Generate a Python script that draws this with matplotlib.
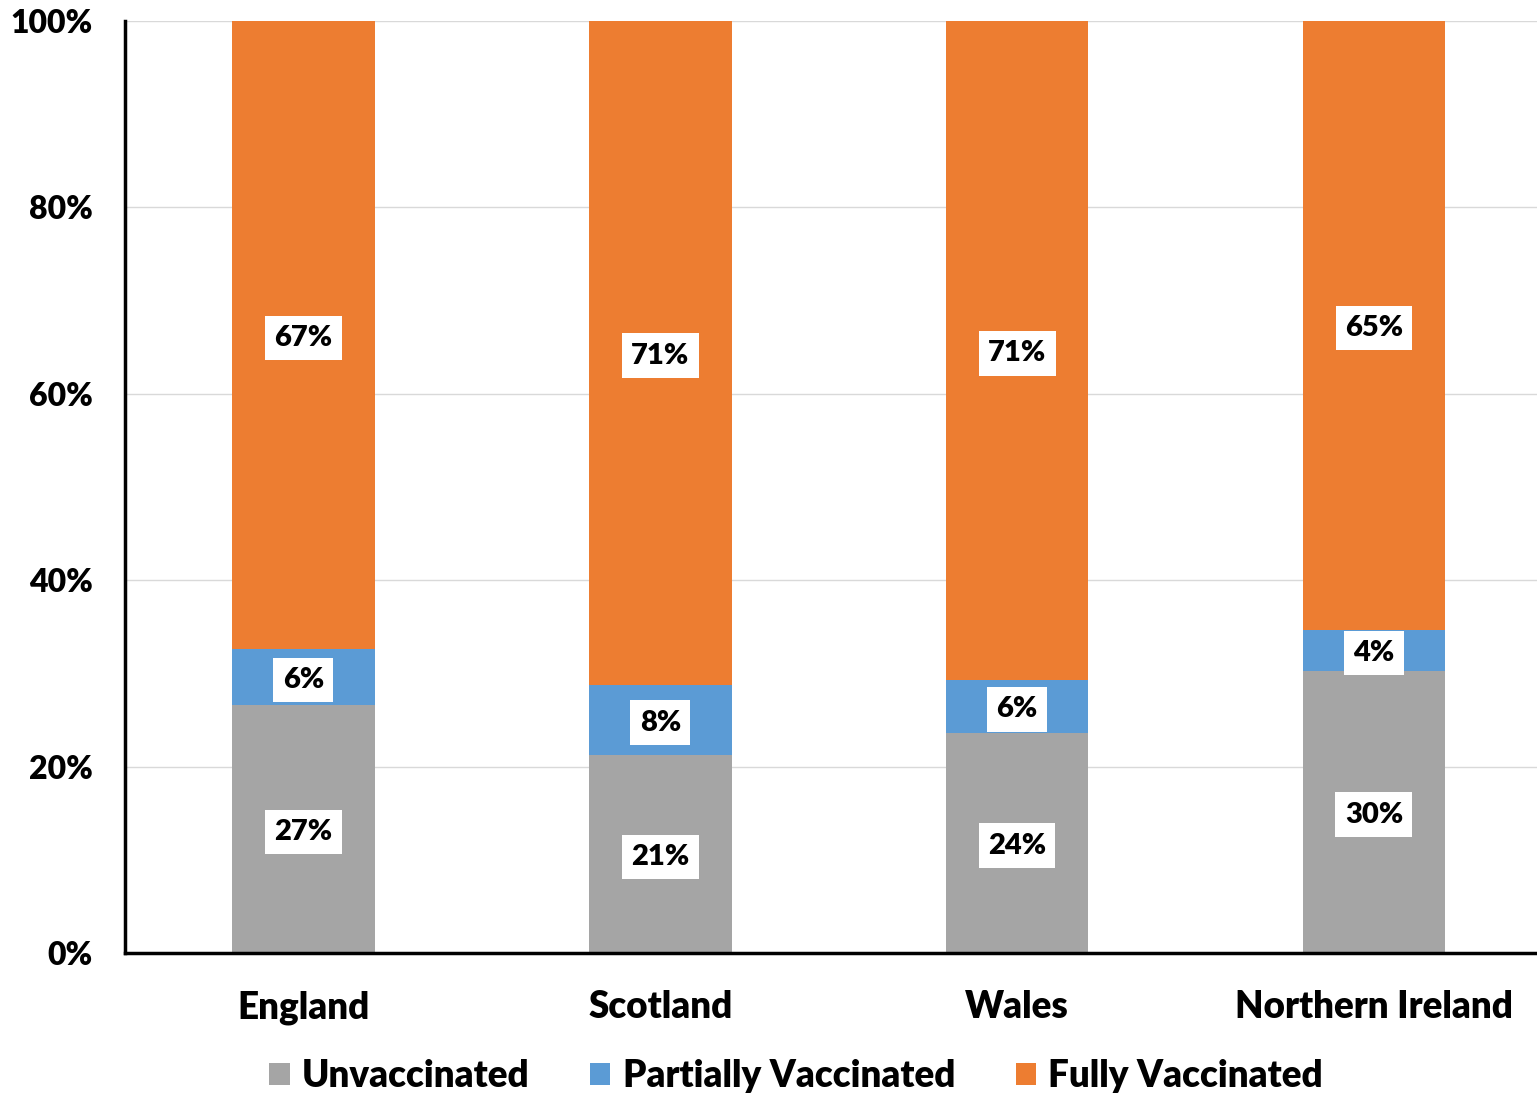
import matplotlib
matplotlib.use("Agg")
import matplotlib.pyplot as plt
import numpy as np
from matplotlib.ticker import PercentFormatter

# values (percent of population)
nations = ['England', 'Scotland', 'Wales', 'Northern Ireland']
unvaccinated = [26.6, 21.2, 23.6, 30.3]
partial = [6.0, 7.6, 5.7, 4.4]
fully = [67.4, 71.2, 70.7, 65.3]

series = [('Unvaccinated', unvaccinated, '#A5A5A5'),
          ('Partially Vaccinated', partial, '#5B9BD5'),
          ('Fully Vaccinated', fully, '#ED7D31')]

plt.rcParams['font.family'] = ['Lato', 'DejaVu Sans']
plt.rcParams['font.weight'] = 'bold'

fig = plt.figure(figsize=(15.37, 10.95), dpi=100)
ax = fig.add_axes([125 / 1537, 142 / 1095, 1 - 125 / 1537, (953 - 21) / 1095])

x = np.arange(len(nations))
bottom = np.zeros(len(nations))
handles = []
for name, vals, col in series:
    vals = np.array(vals)
    bars = ax.bar(x, vals, 0.4, bottom=bottom, color=col, label=name, zorder=2)
    handles.append(bars)
    for xi, b, v in zip(x, bottom, vals):
        ax.text(xi, b + v / 2 - 0.3, f'{round(v):.0f}%', ha='center', va='center',
                fontsize=21, fontweight='heavy', zorder=3,
                bbox=dict(boxstyle='square,pad=0.32', fc='white', ec='none'))
    bottom += vals

ax.set_ylim(0, 100)
ax.set_xlim(-0.5, 3.457)
ax.set_yticks(range(0, 101, 20))
ax.yaxis.set_major_formatter(PercentFormatter(decimals=0))
ax.grid(axis='y', color='#D9D9D9', linewidth=1, zorder=0)
ax.set_xticks(x)
ax.set_xticklabels(nations)
ax.tick_params(axis='y', length=0, pad=23, labelsize=23)
ax.tick_params(axis='x', length=0, pad=27, labelsize=26.5)
for lbl in ax.get_xticklabels() + ax.get_yticklabels():
    lbl.set_fontweight('heavy')
for s in ['top', 'right']:
    ax.spines[s].set_visible(False)
for s in ['left', 'bottom']:
    ax.spines[s].set_linewidth(2.5)
    ax.spines[s].set_color('black')
    ax.spines[s].set_zorder(4)

fig.legend(handles=handles, loc='center', bbox_to_anchor=(796 / 1537, 1 - 1076 / 1095),
           ncol=3, frameon=False, prop={'size': 26.5, 'weight': 'heavy'},
           handlelength=0.55, handleheight=0.55, handletextpad=0.33, columnspacing=1.65)

fig.savefig('out.png', dpi=100)
